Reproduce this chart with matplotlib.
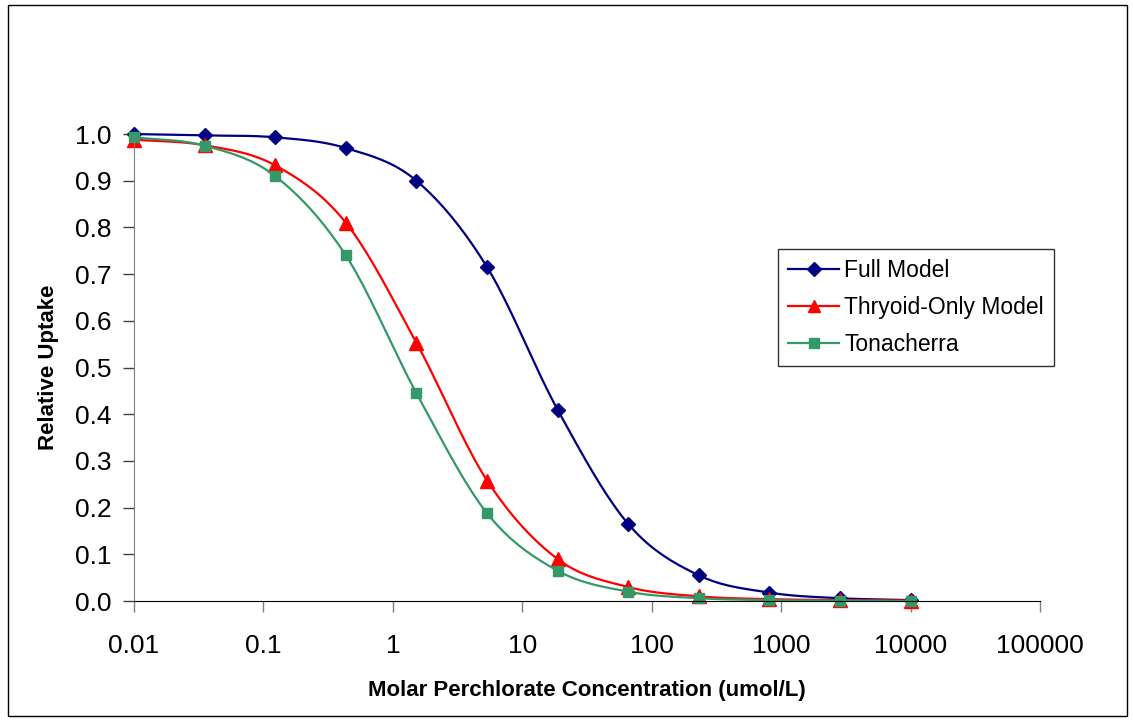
import numpy as np
import matplotlib.pyplot as plt
from matplotlib.patches import Rectangle

plt.rcParams['font.family'] = ['Liberation Sans', 'DejaVu Sans']

# perchlorate concentrations (umol/L)
conc = [0.01, 0.0351, 0.123, 0.433, 1.52, 5.34, 18.7, 65.8, 231, 811, 2848, 10000]

full_model = [1.0, 0.997, 0.993, 0.970, 0.900, 0.715, 0.410, 0.165, 0.055, 0.018, 0.006, 0.002]
thyroid_only = [0.988, 0.976, 0.933, 0.810, 0.553, 0.258, 0.090, 0.030, 0.010, 0.004, 0.002, 0.001]
tonacherra = [0.993, 0.975, 0.910, 0.740, 0.445, 0.188, 0.065, 0.020, 0.006, 0.002, 0.001, 0.000]


def smooth(x, y, n=20):
    # Catmull-Rom curve through the points, done in log10(x)
    lx = np.log10(x)
    y = np.asarray(y, dtype=float)
    px = np.concatenate([[2 * lx[0] - lx[1]], lx, [2 * lx[-1] - lx[-2]]])
    py = np.concatenate([[2 * y[0] - y[1]], y, [2 * y[-1] - y[-2]]])
    xs, ys = [], []
    t = np.linspace(0, 1, n, endpoint=False)
    for i in range(1, len(px) - 2):
        for arr, out in ((px, xs), (py, ys)):
            p0, p1, p2, p3 = arr[i - 1], arr[i], arr[i + 1], arr[i + 2]
            out.extend(0.5 * (2 * p1 + (-p0 + p2) * t
                              + (2 * p0 - 5 * p1 + 4 * p2 - p3) * t ** 2
                              + (-p0 + 3 * p1 - 3 * p2 + p3) * t ** 3))
    xs.append(lx[-1])
    ys.append(y[-1])
    return 10 ** np.array(xs), np.array(ys)


fig = plt.figure(figsize=(11.33, 7.21), dpi=100)
ax = fig.add_axes([0.1183, 0.1664, 0.7997, 0.6477])

series = [
    (full_model, 'Full Model', '#000080', 'D', 7.5),
    (thyroid_only, 'Thryoid-Only Model', '#FF0000', '^', 9.5),
    (tonacherra, 'Tonacherra', '#339966', 's', 7.5),
]
for vals, name, col, mk, ms in series:
    sx, sy = smooth(conc, vals)
    ax.plot(sx, sy, color=col, linewidth=1.6, clip_on=False)
    ax.plot(conc, vals, linestyle='none', marker=mk, color=col, markersize=ms, clip_on=False)
    ax.plot([], [], color=col, linewidth=1.6, marker=mk, markersize=ms - 0.5, label=name)

ax.set_xscale('log')
ax.set_xlim(0.01, 100000)
ax.set_ylim(0, 1.0)
ax.set_xticks([0.01, 0.1, 1, 10, 100, 1000, 10000, 100000])
ax.set_xticklabels(['0.01', '0.1', '1', '10', '100', '1000', '10000', '100000'])
ax.minorticks_off()
ax.set_yticks(np.arange(0, 1.01, 0.1))
ax.set_yticklabels([f'{v:.1f}' for v in np.arange(0, 1.01, 0.1)])
ax.tick_params(axis='both', labelsize=19, length=8, width=1, direction='out')
ax.tick_params(axis='x', pad=15.5, color='#808080')
ax.tick_params(axis='y', pad=8, color='#404040')

for s in ('top', 'right'):
    ax.spines[s].set_visible(False)
ax.spines['left'].set_color('#808080')
ax.spines['bottom'].set_color('black')

ax.set_xlabel('Molar Perchlorate Concentration (umol/L)', fontsize=16, fontweight='bold', labelpad=16)
ax.set_ylabel('Relative Uptake', fontsize=16, fontweight='bold', labelpad=12)

leg = ax.legend(loc='upper left', bbox_to_anchor=(778 / 1133, 1 - 249 / 721),
                bbox_transform=fig.transFigure, borderaxespad=0, fontsize=16.5,
                frameon=True, fancybox=False, edgecolor='black', handlelength=2.2,
                borderpad=0.45, labelspacing=0.6, handletextpad=0.25)
leg.get_frame().set_linewidth(1)

# outer frame around the whole figure
fig.patches.append(Rectangle((0.007, 0.007), 0.988, 0.986, transform=fig.transFigure,
                             fill=False, edgecolor='black', linewidth=1))

fig.savefig('out.png', dpi=100)
